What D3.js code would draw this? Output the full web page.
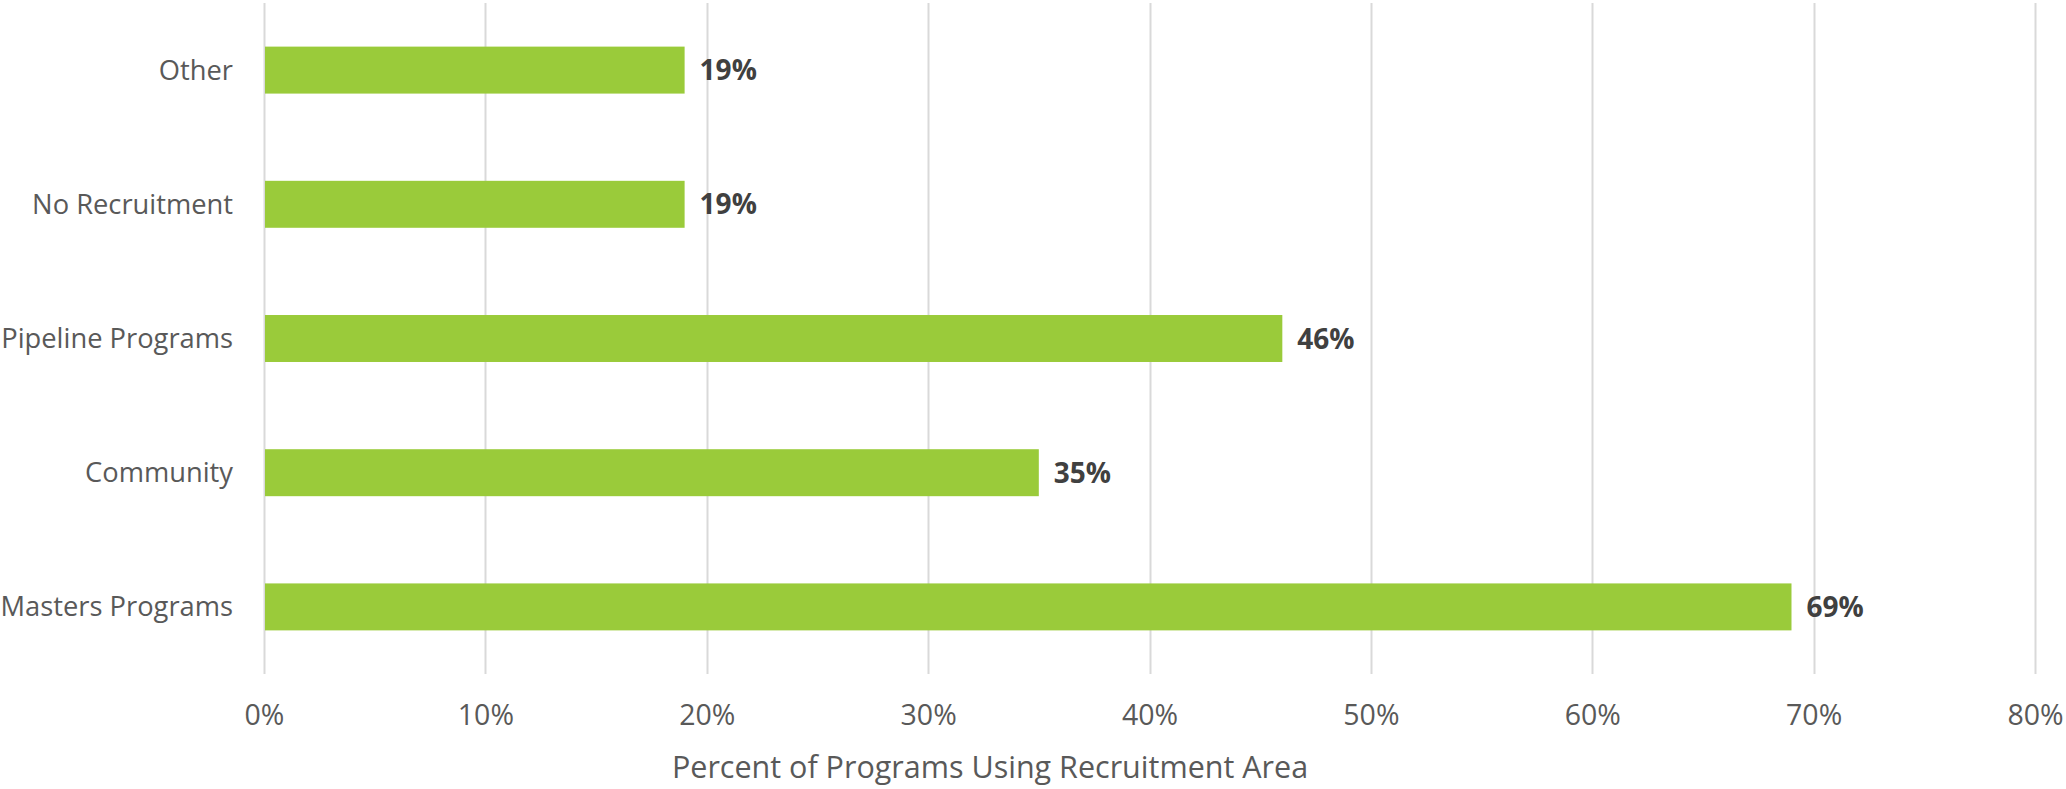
<!DOCTYPE html>
<html>
<head>
<meta charset="utf-8">
<script src="https://cdn.jsdelivr.net/npm/d3@7"></script>
<style>
  html, body { margin: 0; padding: 0; background: #fff; }
  svg { display: block; }
  text { font-family: "Open Sans", "Noto Sans", sans-serif; }
</style>
</head>
<body>
<svg id="chart" width="2066" height="789"></svg>
<script>
const categories = ["Other", "No Recruitment", "Pipeline Programs", "Community", "Masters Programs"];
const values = [19, 19, 46, 35, 69];
const tickValues = [0, 10, 20, 30, 40, 50, 60, 70, 80];
const axisTitle = "Percent of Programs Using Recruitment Area";

const svg = d3.select("#chart");
const plot = { left: 264, right: 2035, top: 3, bottom: 674 };

const x = d3.scaleLinear().domain([0, 80]).range([plot.left, plot.right]);
const y = d3.scaleBand().domain(categories).range([plot.top, plot.bottom]).paddingInner(0.65).paddingOuter(0.325);

// gridlines
svg.append("g").selectAll("line").data(tickValues).join("line")
  .attr("x1", d => Math.round(x(d)) + 0.5).attr("x2", d => Math.round(x(d)) + 0.5)
  .attr("y1", plot.top).attr("y2", plot.bottom)
  .attr("stroke", "#D9D9D9").attr("stroke-width", 2);

// x tick labels
const xAxis = d3.axisBottom(x).tickValues(tickValues).tickFormat(d => d + "%").tickSize(0).tickPadding(0);
const gx = svg.append("g").attr("transform", `translate(0, ${plot.bottom})`).call(xAxis);
gx.select(".domain").remove();
gx.selectAll("text").attr("y", 51).attr("dy", 0)
  .attr("font-size", 28.5).attr("fill", "#595959")
  .style("font-family", "'Open Sans', sans-serif");

// y labels
const yAxis = d3.axisLeft(y).tickSize(0).tickPadding(0);
const gy = svg.append("g").attr("transform", `translate(233, 0)`).call(yAxis);
gy.select(".domain").remove();
gy.selectAll("text").attr("x", 0).attr("dy", "0.35em")
  .attr("font-size", 27.3).attr("fill", "#595959")
  .style("font-family", "'Open Sans', sans-serif");

// bars
svg.append("g").selectAll("rect").data(categories).join("rect")
  .attr("x", x(0) + 1)
  .attr("y", d => y(d))
  .attr("width", (d, i) => x(values[i]) - x(0) - 1)
  .attr("height", y.bandwidth())
  .attr("fill", "#9ACB3A");

// value labels
svg.append("g").selectAll("text").data(categories).join("text")
  .attr("x", (d, i) => x(values[i]) + 15)
  .attr("y", d => y(d) + y.bandwidth() / 2)
  .attr("dy", "0.36em")
  .attr("font-size", 28).attr("font-weight", "bold").attr("fill", "#404040")
  .text((d, i) => values[i] + "%");

// axis title
svg.append("text")
  .attr("x", 990).attr("y", 778)
  .attr("text-anchor", "middle")
  .attr("font-size", 30.5).attr("fill", "#595959")
  .text(axisTitle);
</script>
</body>
</html>
